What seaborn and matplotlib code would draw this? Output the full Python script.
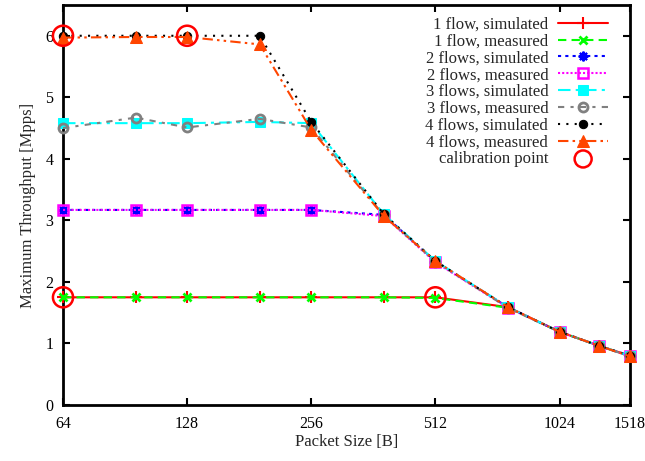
import numpy as np
import pandas as pd
import matplotlib
matplotlib.use("Agg")
import matplotlib.pyplot as plt
import seaborn as sns

# packet sizes [B] and max throughput [Mpps]
sizes = [64, 96, 128, 192, 256, 384, 512, 768, 1024, 1280, 1518]
sim1 = [1.75, 1.75, 1.75, 1.75, 1.75, 1.75, 1.75, 1.59, 1.19, 0.96, 0.80]
meas1 = [1.75, 1.75, 1.75, 1.75, 1.75, 1.75, 1.74, 1.58, 1.19, 0.96, 0.79]
sim2 = [3.17, 3.17, 3.17, 3.17, 3.17, 3.09, 2.33, 1.59, 1.19, 0.96, 0.80]
meas2 = [3.17, 3.17, 3.17, 3.17, 3.17, 3.07, 2.32, 1.58, 1.19, 0.96, 0.79]
sim3 = [4.58, 4.58, 4.58, 4.60, 4.58, 3.10, 2.34, 1.59, 1.19, 0.96, 0.80]
meas3 = [4.50, 4.67, 4.51, 4.65, 4.51, 3.08, 2.33, 1.58, 1.19, 0.96, 0.79]
sim4 = [6.00, 6.00, 6.00, 6.00, 4.60, 3.10, 2.34, 1.59, 1.19, 0.96, 0.80]
meas4 = [5.97, 5.98, 5.98, 5.86, 4.47, 3.07, 2.34, 1.59, 1.19, 0.96, 0.79]
cal_x = [64, 128, 64, 512]
cal_y = [6.00, 6.00, 1.75, 1.75]

xticks = [64, 128, 256, 512, 1024, 1518]

sns.set_style("ticks")
plt.rcParams['font.family'] = ['Liberation Serif', 'DejaVu Serif']
plt.rcParams['xtick.direction'] = 'in'
plt.rcParams['ytick.direction'] = 'in'
plt.rcParams['xtick.top'] = True
plt.rcParams['ytick.right'] = True

fig = plt.figure(figsize=(6.45, 4.61), dpi=100)
ax = fig.add_axes([63/645, 1-405/461, (630-63)/645, 400/461])

series = [
    ("1 flow, simulated", sim1, "#ff0000", "-", "+", dict(markersize=9, markeredgewidth=1.5)),
    ("1 flow, measured", meas1, "#00ff00", (0, (4, 2.5)), "x", dict(markersize=6, markeredgewidth=2)),
    ("2 flows, simulated", sim2, "#0000ff", (0, (1.5, 2)), (8, 2, 0), dict(markersize=7, markeredgewidth=1.5)),
    ("2 flows, measured", meas2, "#ff00ff", (0, (1, 1)), "s", dict(markersize=7, markerfacecolor="none", markeredgewidth=1.8)),
    ("3 flows, simulated", sim3, "#00ffff", (0, (6, 2.5, 1.5, 2.5)), "s", dict(markersize=7)),
    ("3 flows, measured", meas3, "#808080", (0, (3, 3, 1.5, 3)), "o", dict(markersize=6.5, markerfacecolor="none", markeredgewidth=2)),
    ("4 flows, simulated", sim4, "#000000", (0, (1, 3)), "o", dict(markersize=6)),
    ("4 flows, measured", meas4, "#ff4500", (0, (5, 2, 1.2, 2, 1.2, 2)), "^", dict(markersize=9)),
]

for label, vals, color, ls, mk, kw in series:
    sns.lineplot(x=sizes, y=vals, ax=ax, color=color, linestyle=ls, marker=mk,
                 linewidth=1.5, label=label, markeredgecolor=color, clip_on=False, **kw)

sns.scatterplot(x=cal_x, y=cal_y, ax=ax, s=210, facecolor="none", edgecolor="#ff0000",
                linewidth=1.8, label="calibration point", zorder=5, clip_on=False)

ax.set_xscale("log", base=2)
ax.set_xlim(64, 1518)
ax.set_ylim(0, 6.5)
ax.set_xticks(xticks)
ax.set_xticklabels([str(t) for t in xticks])
ax.xaxis.set_minor_locator(matplotlib.ticker.NullLocator())
ax.set_yticks(range(0, 7))
ax.tick_params(labelsize=11.5, length=5, width=1.5, colors="black")
ax.tick_params(axis="x", pad=8)
ax.tick_params(axis="y", pad=7)
for sp in ax.spines.values():
    sp.set_linewidth(2)
    sp.set_color("black")
    sp.set_visible(True)
    sp.set_zorder(0.5)

ax.set_xlabel("Packet Size [B]", fontsize=12, labelpad=1)
ax.set_ylabel("Maximum Throughput [Mpps]", fontsize=12, labelpad=7)

leg = ax.legend(loc="upper right", bbox_to_anchor=(0.982, 1.0), frameon=False,
                markerfirst=False, fontsize=12, handlelength=3.0, labelspacing=0.05,
                handletextpad=0.6, borderpad=0.2)
for h in leg.legend_handles[-1:]:
    h.set_sizes([150])

fig.savefig("out.png", dpi=100)
